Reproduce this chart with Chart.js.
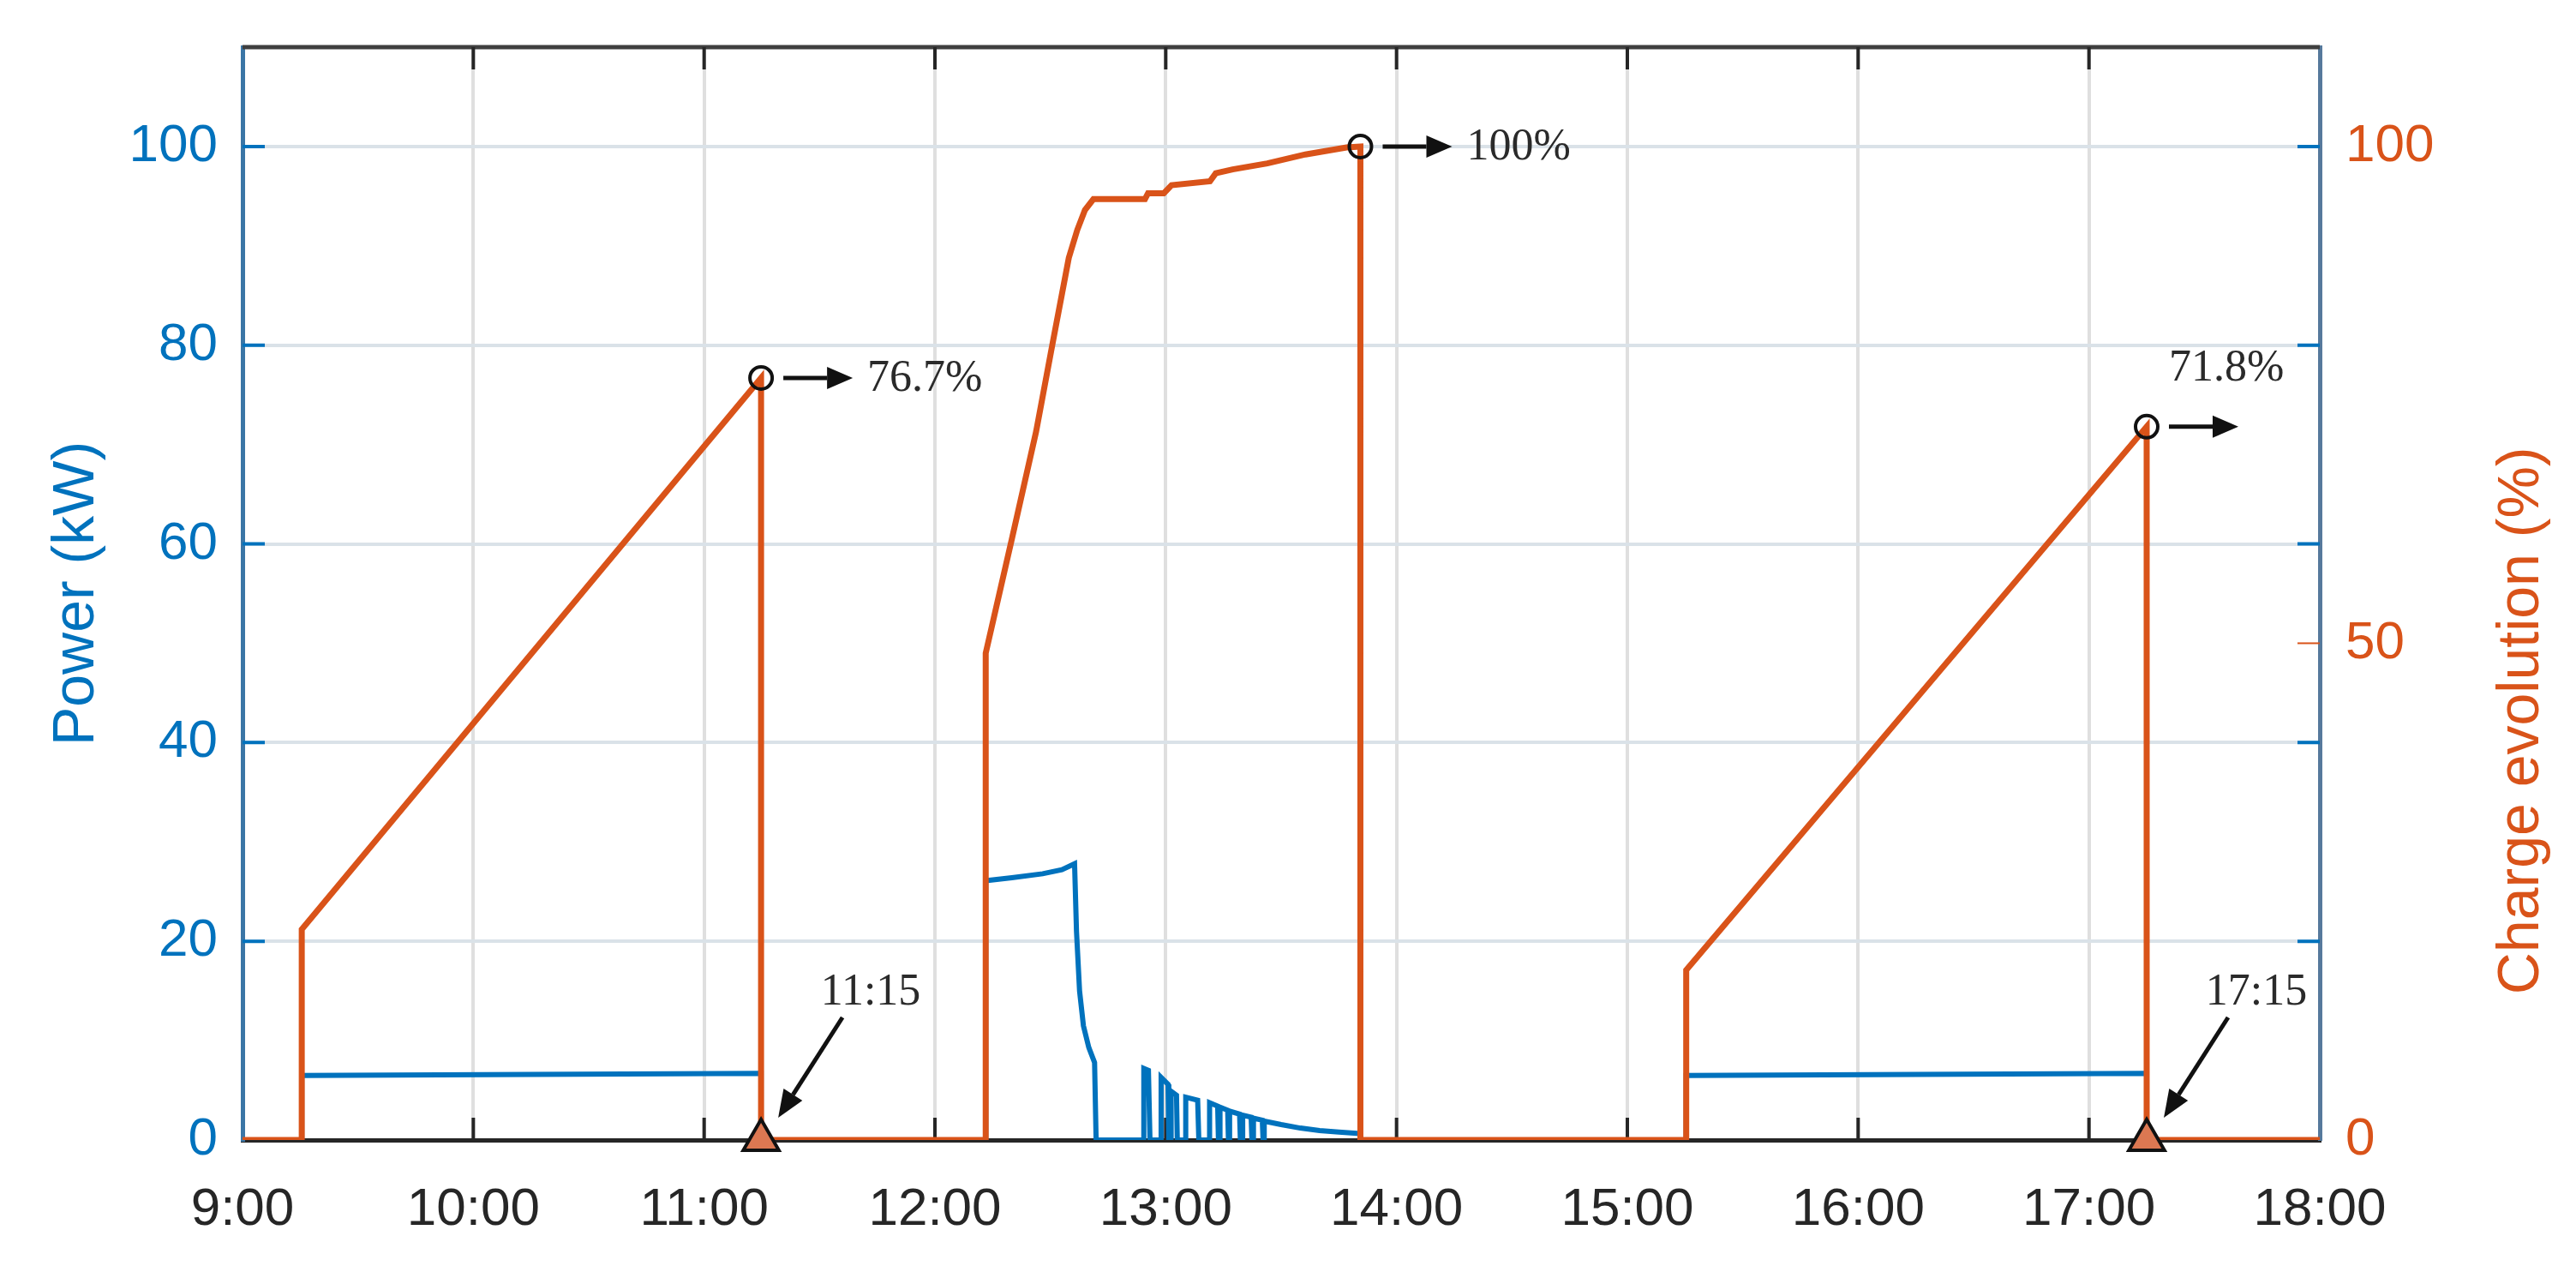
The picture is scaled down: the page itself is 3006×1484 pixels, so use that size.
<!DOCTYPE html>
<html lang="en">
<head>
  <meta charset="utf-8" />
  <title>Power and charge evolution</title>
  <script src="https://cdn.jsdelivr.net/npm/chart.js@4.4.1/dist/chart.umd.min.js"></script>
  <style>
    html, body { margin: 0; padding: 0; background: #fff; }
    #chart { display: block; }
  </style>
</head>
<body>
<canvas id="chart" width="3006" height="1484"></canvas>

<script>
// Clock times are "H:MM" (fractional minutes allowed); a repeated time is a vertical step.

// Power drawn by the charger (kW, left axis)
const powerTimes = [
  '9:00', '9:15.4', '9:15.4', '10:15', '11:14.8', '11:14.8',
  '12:13.2', '12:13.2', '12:20', '12:28', '12:33', '12:36.3', '12:36.8', '12:37.6',
  '12:38.6', '12:40', '12:41.5', '12:41.9',
  '12:54.3', '12:54.3', '12:55.5', '12:55.9',
  '12:58.8', '12:58.8', '13:00.6', '13:00.8',
  '13:01.4', '13:01.4', '13:02.8', '13:03.0',
  '13:05.2', '13:05.2', '13:08.3', '13:08.6',
  '13:11.4', '13:11.4', '13:13.5', '13:13.7',
  '13:14.1', '13:14.1', '13:16.1', '13:16.3',
  '13:16.6', '13:16.6', '13:19.2', '13:19.4',
  '13:20.0', '13:20.0', '13:22.2', '13:22.4',
  '13:22.8', '13:22.8', '13:25.1', '13:25.3',
  '13:25.6', '13:25.6', '13:30', '13:35', '13:40', '13:45', '13:50.6', '13:50.6',
  '15:15.3', '15:15.3', '16:15', '17:15', '17:15', '18:00'
];
const powerValues = [
  0, 0, 6.5, 6.6, 6.7, 0,
  0, 26.1, 26.4, 26.8, 27.2, 27.8, 21.0, 15.0,
  11.5, 9.3, 7.8, 0,
  0, 7.2, 7.0, 0,
  0, 6.3, 5.6, 0,
  0, 4.9, 4.5, 0,
  0, 4.3, 4.0, 0,
  0, 3.75, 3.4, 0,
  0, 3.3, 3.0, 0,
  0, 2.9, 2.6, 0,
  0, 2.5, 2.3, 0,
  0, 2.2, 2.0, 0,
  0, 1.9, 1.55, 1.2, 0.95, 0.8, 0.65, 0,
  0, 6.5, 6.6, 6.7, 0, 0
];

// State of charge (%, right axis)
const chargeTimes = [
  '9:00', '9:15.4', '9:15.4', '11:14.8', '11:14.8',
  '12:13.2', '12:13.2', '12:20', '12:26.3', '12:30.5', '12:34.8', '12:37.0', '12:39.0',
  '12:41.2', '12:54.6', '12:55.4', '12:59.5', '13:01.5', '13:11.5', '13:13.0',
  '13:17.4', '13:26.4', '13:36.3', '13:47.0', '13:50.6', '13:50.6',
  '15:15.3', '15:15.3', '17:15', '17:15', '18:00'
];
const chargeValues = [
  0, 0, 21.2, 76.7, 0,
  0, 49.0, 60.5, 71.3, 80.0, 88.8, 91.6, 93.6,
  94.7, 94.7, 95.3, 95.3, 96.1, 96.5, 97.3,
  97.7, 98.3, 99.2, 99.9, 100, 0,
  0, 17.1, 71.8, 0, 0
];

const xTickLabels = ['9:00', '10:00', '11:00', '12:00', '13:00', '14:00', '15:00', '16:00', '17:00', '18:00'];

// Annotations
const peakTimes = ['11:14.8', '13:50.6', '17:15'];
const peakValues = [76.7, 100, 71.8];
const peakLabels = ['76.7%', '100%', '71.8%'];
const peakLabelPlacement = ['right', 'right', 'above'];

const endTimes = ['11:14.8', '17:15'];
const endValues = [0, 0];
const endLabels = ['11:15', '17:15'];

const BLUE = '#0072BD';
const ORANGE = '#D95319';
const SANS = "'Liberation Sans', Arial, sans-serif";
const SERIF = "'Liberation Serif', 'Times New Roman', serif";

function toMinutes(clock) {
  const parts = clock.split(':');
  return parseInt(parts[0], 10) * 60 + parseFloat(parts[1]);
}

function toPoints(times, values) {
  return times.map((t, i) => ({ x: toMinutes(t), y: values[i] }));
}

// keep the 110 end of the range as plain space, no tick
function dropTopTick(scale) {
  scale.ticks = scale.ticks.filter(t => t.value <= 100);
}

// fixed axis width, and no extra room kept for half tick labels
function fixWidth(width) {
  return scale => {
    scale.width = width;
    scale.paddingTop = 0;
    scale.paddingBottom = 0;
  };
}

function drawArrow(ctx, x1, y1, x2, y2, headLen, headHalf) {
  const ang = Math.atan2(y2 - y1, x2 - x1);
  const bx = x2 - headLen * Math.cos(ang);
  const by = y2 - headLen * Math.sin(ang);
  ctx.beginPath();
  ctx.moveTo(x1, y1);
  ctx.lineTo(bx, by);
  ctx.stroke();
  ctx.beginPath();
  ctx.moveTo(x2, y2);
  ctx.lineTo(bx + headHalf * Math.sin(ang), by - headHalf * Math.cos(ang));
  ctx.lineTo(bx - headHalf * Math.sin(ang), by + headHalf * Math.cos(ang));
  ctx.closePath();
  ctx.fill();
}

// Box, MATLAB-like inner tick marks and the right-hand axis title
const framePlugin = {
  id: 'frame',
  beforeDatasetsDraw(chart) {
    const { ctx, chartArea: a, scales } = chart;
    const x = scales.x, yP = scales.yP, yC = scales.yC;
    const tickLen = 26;
    ctx.save();

    // top border
    ctx.strokeStyle = '#3f3f3f';
    ctx.lineWidth = 5;
    ctx.beginPath();
    ctx.moveTo(a.left, a.top);
    ctx.lineTo(a.right, a.top);
    ctx.stroke();

    // hour ticks on bottom and top
    ctx.lineWidth = 4;
    x.ticks.forEach(t => {
      const px = x.getPixelForValue(t.value);
      if (px <= a.left + 2 || px >= a.right - 2) return;
      ctx.strokeStyle = '#262626';
      ctx.beginPath();
      ctx.moveTo(px, a.bottom);
      ctx.lineTo(px, a.bottom - tickLen);
      ctx.moveTo(px, a.top);
      ctx.lineTo(px, a.top + tickLen);
      ctx.stroke();
    });

    // left axis ticks, repeated on the right side
    yP.ticks.forEach(t => {
      const py = yP.getPixelForValue(t.value);
      if (t.value === 0) return;
      ctx.strokeStyle = BLUE;
      ctx.beginPath();
      ctx.moveTo(a.left, py);
      ctx.lineTo(a.left + tickLen, py);
      ctx.moveTo(a.right, py);
      ctx.lineTo(a.right - tickLen, py);
      ctx.stroke();
    });

    // right axis ticks
    yC.ticks.forEach(t => {
      if (t.value === 0 || t.value === 100) return;
      const py = yC.getPixelForValue(t.value);
      ctx.strokeStyle = ORANGE;
      ctx.lineWidth = 2;
      ctx.beginPath();
      ctx.moveTo(a.right, py);
      ctx.lineTo(a.right - tickLen, py);
      ctx.stroke();
    });
    ctx.restore();
  },
  afterDraw(chart) {
    const { ctx, scales } = chart;
    const yC = scales.yC;
    // right title reads bottom-to-top, like the left one
    ctx.save();
    ctx.translate(yC.right - 63, yC.getPixelForValue(42.2));
    ctx.rotate(-Math.PI / 2);
    ctx.fillStyle = ORANGE;
    ctx.font = '68px ' + SANS;
    ctx.textAlign = 'center';
    ctx.textBaseline = 'middle';
    ctx.fillText('Charge evolution (%)', 0, 0);
    ctx.restore();
  }
};

// Arrows and serif labels next to the marked points
const notesPlugin = {
  id: 'notes',
  afterDatasetsDraw(chart) {
    const { ctx, scales } = chart;
    const x = scales.x, yC = scales.yC;
    ctx.save();
    ctx.fillStyle = '#111';
    ctx.strokeStyle = '#111';
    ctx.lineWidth = 5;
    ctx.font = '52px ' + SERIF;
    ctx.textBaseline = 'middle';
    ctx.textAlign = 'left';

    peakTimes.forEach((t, i) => {
      const px = x.getPixelForValue(toMinutes(t));
      const py = yC.getPixelForValue(peakValues[i]);
      drawArrow(ctx, px + 26, py, px + 107, py, 30, 13);
      ctx.fillStyle = '#2a2a2a';
      if (peakLabelPlacement[i] === 'above') {
        ctx.fillText(peakLabels[i], px + 26, py - 67);
      } else {
        ctx.fillText(peakLabels[i], px + 124, py + 1);
      }
      ctx.fillStyle = '#111';
    });

    ctx.textAlign = 'center';
    endTimes.forEach((t, i) => {
      const px = x.getPixelForValue(toMinutes(t));
      const py = yC.getPixelForValue(endValues[i]);
      drawArrow(ctx, px + 95, py - 143, px + 20, py - 26, 32, 13);
      ctx.fillStyle = '#2a2a2a';
      ctx.fillText(endLabels[i], px + 128, py - 172);
      ctx.fillStyle = '#111';
    });
    ctx.restore();
  }
};

window.addEventListener('load', () => {
  const ctx = document.getElementById('chart').getContext('2d');
  new Chart(ctx, {
    type: 'line',
    data: {
      datasets: [
        {
          label: 'Peaks',
          data: toPoints(peakTimes, peakValues),
          yAxisID: 'yC',
          showLine: false,
          pointStyle: 'circle',
          pointRadius: 13,
          pointBorderWidth: 4,
          pointBorderColor: '#111',
          pointBackgroundColor: 'rgba(0,0,0,0)',
          clip: false,
          order: 0
        },
        {
          label: 'Ends',
          data: toPoints(endTimes, endValues),
          yAxisID: 'yC',
          showLine: false,
          pointStyle: 'triangle',
          pointRadius: 24,
          pointBorderWidth: 4,
          pointBorderColor: '#111',
          pointBackgroundColor: '#dc7852',
          clip: false,
          order: 0
        },
        {
          label: 'Charge evolution (%)',
          data: toPoints(chargeTimes, chargeValues),
          yAxisID: 'yC',
          borderColor: ORANGE,
          borderWidth: 7,
          pointRadius: 0,
          tension: 0,
          fill: false,
          order: 1
        },
        {
          label: 'Power (kW)',
          data: toPoints(powerTimes, powerValues),
          yAxisID: 'yP',
          borderColor: BLUE,
          borderWidth: 6,
          pointRadius: 0,
          tension: 0,
          fill: false,
          order: 2
        }
      ]
    },
    options: {
      responsive: false,
      animation: false,
      devicePixelRatio: 1,
      layout: { padding: { top: 55, left: 0, right: 0, bottom: 0 } },
      plugins: {
        legend: { display: false },
        tooltip: { enabled: false }
      },
      scales: {
        x: {
          type: 'linear',
          position: 'bottom',
          min: 540,
          max: 1080,
          afterFit: s => { s.height = 154; s.paddingLeft = 0; s.paddingRight = 0; },
          ticks: {
            stepSize: 60,
            autoSkip: false,
            maxRotation: 0,
            padding: 45,
            color: '#262626',
            font: { family: SANS, size: 62 },
            callback: (value, index) => xTickLabels[index]
          },
          grid: { color: '#dfdfdf', lineWidth: 4, drawTicks: false },
          border: { color: '#262626', width: 5 }
        },
        yP: {
          type: 'linear',
          position: 'left',
          min: 0,
          max: 110,
          afterFit: fixWidth(283),
          afterBuildTicks: dropTopTick,
          ticks: {
            stepSize: 20,
            padding: 29,
            color: BLUE,
            font: { family: SANS, size: 62 }
          },
          grid: { color: '#dae2e8', lineWidth: 4, drawTicks: false },
          border: { color: '#3b76a6', width: 5 },
          title: {
            display: true,
            text: 'Power (kW)',
            color: BLUE,
            font: { family: SANS, size: 68 },
            padding: { top: 49, bottom: 0 }
          }
        },
        yC: {
          type: 'linear',
          position: 'right',
          min: 0,
          max: 110,
          afterFit: fixWidth(299),
          afterBuildTicks: dropTopTick,
          ticks: {
            stepSize: 50,
            padding: 30,
            color: ORANGE,
            font: { family: SANS, size: 62 }
          },
          grid: { drawOnChartArea: false, drawTicks: false },
          border: { color: '#56799c', width: 5 }
        }
      }
    },
    plugins: [framePlugin, notesPlugin]
  });
});
</script>
</body>
</html>
